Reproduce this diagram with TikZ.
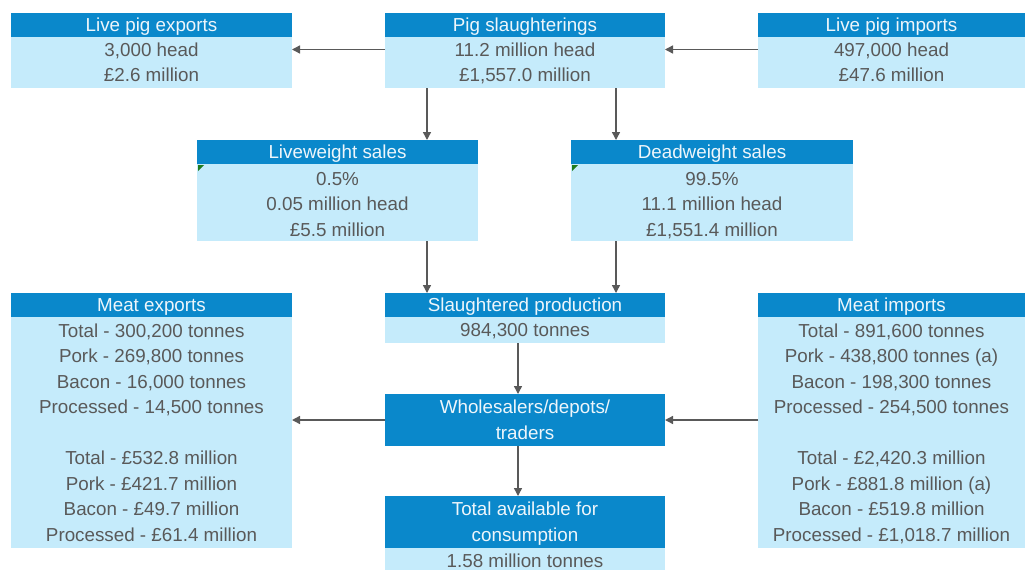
\documentclass[tikz,border=0pt]{standalone}
\usepackage{fontspec}
\setmainfont{Liberation Sans}
\usetikzlibrary{arrows.meta}
\definecolor{headblue}{HTML}{0A88CB}
\definecolor{bodyblue}{HTML}{C5EBFB}
\definecolor{txtgray}{HTML}{595959}
\definecolor{headtxt}{HTML}{EEF6FB}
\definecolor{notegreen}{HTML}{1E7B1E}
% struts that fix the first-line height and last-line depth, so the cap
% height of every text block sits centred in its box
\newcommand\hdtop{\rule{0pt}{18pt}}
\newcommand\hdtoplow{\rule{0pt}{21pt}}
\newcommand\hdbot{\rule[-4.6pt]{0pt}{4.6pt}}
\tikzset{
  base/.style={anchor=north west, inner sep=0pt, outer sep=0pt, align=center,
    font=\fontsize{18.8}{25.5}\selectfont},
  head/.style={base, fill=headblue, text=headtxt, minimum height=24pt},
  body/.style={base, fill=bodyblue, text=txtgray},
  arr/.style={draw=txtgray, line width=1.4pt,
    -{Triangle[length=8pt,width=8pt]}},
}
\begin{document}
\begin{tikzpicture}[x=1pt,y=-1pt]
\useasboundingbox (0,0) rectangle (1025,570);
\fill[white] (0,0) rectangle (1025,570);

% top row
\node[head, minimum width=281pt] (exh) at (11,13) {\hdtop Live pig exports\hdbot};
\node[body, minimum width=281pt, minimum height=51pt] (exb) at (11,37) {\hdtop 3,000 head\\£2.6 million\hdbot};

\node[head, minimum width=280pt] (slh) at (385,13) {\hdtop Pig slaughterings\hdbot};
\node[body, minimum width=280pt, minimum height=51pt] (slb) at (385,37) {\hdtop 11.2 million head\\£1,557.0 million\hdbot};

\node[head, minimum width=267pt] (imh) at (758,13) {\hdtop Live pig imports\hdbot};
\node[body, minimum width=267pt, minimum height=51pt] (imb) at (758,37) {\hdtop 497,000 head\\£47.6 million\hdbot};

% sales row
\node[head, minimum width=281pt] (lwh) at (197,140) {\hdtop Liveweight sales\hdbot};
\node[body, minimum width=281pt, minimum height=77pt] (lwb) at (197,164) {\hdtoplow 0.5\%\\0.05 million head\\£5.5 million\hdbot};

\node[head, minimum width=282pt] (dwh) at (571,140) {\hdtop Deadweight sales\hdbot};
\node[body, minimum width=282pt, minimum height=77pt] (dwb) at (571,164) {\hdtoplow 99.5\%\\11.1 million head\\£1,551.4 million\hdbot};

% comment markers
\fill[notegreen] ([shift={(1,1)}]lwb.north west) -- ++(6,0) -- ++(-6,6) -- cycle;
\fill[notegreen] ([shift={(1,1)}]dwb.north west) -- ++(6,0) -- ++(-6,6) -- cycle;

% meat trade row
\node[head, minimum width=281pt] (meh) at (11,293) {\hdtop Meat exports\hdbot};
\node[body, minimum width=281pt, minimum height=231pt] (meb) at (11,317)
  {\hdtop Total - 300,200 tonnes\\Pork - 269,800 tonnes\\Bacon - 16,000 tonnes\\Processed - 14,500 tonnes\\[25.5pt]
   Total - £532.8 million\\Pork - £421.7 million\\Bacon - £49.7 million\\Processed - £61.4 million\hdbot};

\node[head, minimum width=280pt] (sph) at (385,293) {\hdtop Slaughtered production\hdbot};
\node[body, minimum width=280pt, minimum height=26pt] (spb) at (385,317) {\hdtop 984,300 tonnes\hdbot};

\node[head, minimum width=267pt] (mih) at (758,293) {\hdtop Meat imports\hdbot};
\node[body, minimum width=267pt, minimum height=231pt] (mib) at (758,317)
  {\hdtop Total - 891,600 tonnes\\Pork - 438,800 tonnes (a)\\Bacon - 198,300 tonnes\\Processed - 254,500 tonnes\\[25.5pt]
   Total - £2,420.3 million\\Pork - £881.8 million (a)\\Bacon - £519.8 million\\Processed - £1,018.7 million\hdbot};

% distribution
\node[head, minimum width=280pt, minimum height=52pt] (wh) at (385,394) {\hdtop Wholesalers/depots/\\traders\hdbot};

\node[head, minimum width=280pt, minimum height=52pt] (tah) at (385,496) {\hdtop Total available for\\consumption\hdbot};
\node[body, minimum width=280pt, minimum height=26pt] (tab) at (385,548) {\hdtop 1.58 million tonnes\hdbot};

% connectors
\draw[arr] ([yshift=13pt]slb.west) -- ([yshift=13pt]exb.east);
\draw[arr] ([yshift=13pt]imb.west) -- ([yshift=13pt]slb.east);
\draw[arr] ([xshift=-98pt]slb.south) -- ([xshift=-98pt]slb.south |- lwh.north);
\draw[arr] ([xshift=91pt]slb.south) -- ([xshift=91pt]slb.south |- dwh.north);
\draw[arr] ([xshift=-98pt]sph.north |- lwb.south) -- ([xshift=-98pt]sph.north);
\draw[arr] ([xshift=91pt]sph.north |- dwb.south) -- ([xshift=91pt]sph.north);
\draw[arr] ([xshift=-7pt]spb.south) -- ([xshift=-7pt]wh.north);
\draw[arr] (wh.west) -- (wh.west -| meb.east);
\draw[arr] (wh.east -| mib.west) -- (wh.east);
\draw[arr] ([xshift=-7pt]wh.south) -- ([xshift=-7pt]tah.north);
\end{tikzpicture}
\end{document}
